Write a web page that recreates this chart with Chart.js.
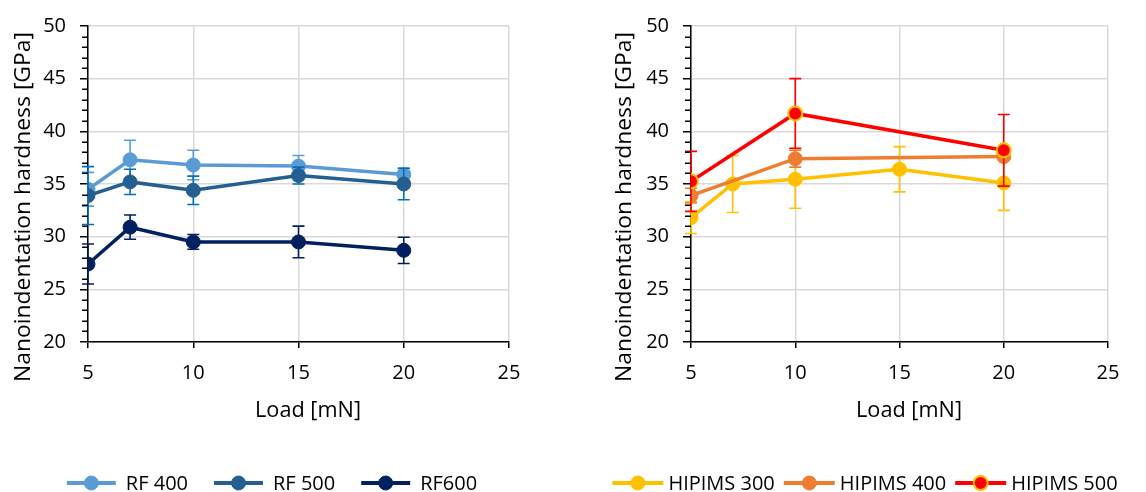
<!DOCTYPE html>
<html>
<head>
<meta charset="utf-8">
<script src="https://cdn.jsdelivr.net/npm/chart.js@4/dist/chart.umd.min.js"></script>
<style>
  body { margin: 0; background: #fff; }
  .panel { position: absolute; top: 0; width: 573px; height: 492px; }
  #leftPanel { left: 0; }
  #rightPanel { left: 573px; }
</style>
</head>
<body>
<div class="panel" id="leftPanel"><canvas id="rfChart" width="573" height="492"></canvas></div>
<div class="panel" id="rightPanel"><canvas id="hipimsChart" width="573" height="492"></canvas></div>
<script>
// Load values [mN]
const loadsFull = [5, 7, 10, 15, 20];
const loadsShort = [5, 10, 20];

// RF sputtered films: hardness [GPa] and standard deviation
const rf400 = [34.5, 37.3, 36.8, 36.7, 35.9];
const rf400Err = [1.6, 1.85, 1.4, 1.0, 0.6];
const rf500 = [33.9, 35.2, 34.4, 35.8, 35.0];
const rf500Err = [2.75, 1.2, 1.35, 0.8, 1.5];
const rf600 = [27.4, 30.9, 29.5, 29.5, 28.7];
const rf600Err = [1.9, 1.15, 0.7, 1.5, 1.25];

// HIPIMS films
const hipims300 = [31.8, 35.0, 35.45, 36.4, 35.1];
const hipims300Err = [1.5, 2.7, 2.75, 2.15, 2.6];
const hipims400 = [33.9, 37.4, 37.6];
const hipims400Err = [0.7, 0.8, 0.3];
const hipims500 = [35.25, 41.7, 38.2];
const hipims500Err = [2.85, 3.3, 3.4];

const yTicks = [20, 25, 30, 35, 40, 45, 50];
const xTicks = [5, 10, 15, 20, 25];

const yTitle = "Nanoindentation hardness [GPa]";
const xTitle = "Load [mN]";

const FONT = "'Open Sans'";
const FONT_SIZE = 20;

function points(xs, ys) {
  return xs.map((x, i) => ({ x: x, y: ys[i] }));
}

function series(label, xs, ys, errs, color, opts = {}) {
  return {
    label: label,
    data: points(xs, ys),
    errors: errs,
    errorColor: opts.errorColor || color,
    borderColor: color,
    backgroundColor: color,
    borderWidth: 3.5,
    pointRadius: 7,
    pointHoverRadius: 7,
    pointBackgroundColor: opts.pointFill || color,
    pointBorderColor: opts.pointBorder || color,
    pointBorderWidth: opts.pointBorderWidth || 1,
    showLine: true,
    tension: 0,
  };
}

// error bars drawn just before each series so later series sit on top
const errorBars = {
  id: "errorBars",
  beforeDatasetDraw(chart, args) {
    const ds = chart.data.datasets[args.index];
    if (!ds.errors) return;
    const y = chart.scales.y;
    const ctx = chart.ctx;
    ctx.save();
    ctx.strokeStyle = ds.errorColor;
    ctx.lineWidth = 1.6;
    args.meta.data.forEach((pt, i) => {
      const v = ds.data[i].y, e = ds.errors[i];
      const top = y.getPixelForValue(v + e);
      const bot = y.getPixelForValue(v - e);
      ctx.beginPath();
      ctx.moveTo(pt.x, top); ctx.lineTo(pt.x, bot);
      ctx.moveTo(pt.x - 6, top); ctx.lineTo(pt.x + 6, top);
      ctx.moveTo(pt.x - 6, bot); ctx.lineTo(pt.x + 6, bot);
      ctx.stroke();
    });
    ctx.restore();
  }
};

// text drawn at a fixed length (axis titles are set a little wider)
function stretchedText(ctx, text, x, y, length, rotated) {
  ctx.save();
  ctx.translate(x, y);
  if (rotated) ctx.rotate(-Math.PI / 2);
  const w = ctx.measureText(text).width;
  ctx.scale(length / w, 1);
  ctx.textAlign = "center";
  ctx.textBaseline = "alphabetic";
  ctx.fillText(text, 0, 0);
  ctx.restore();
}

// minor ticks, axis titles and the line+marker legend
const decorations = {
  id: "decorations",
  afterDraw(chart, args, opts) {
    const ctx = chart.ctx;
    const y = chart.scales.y;
    const area = chart.chartArea;
    ctx.save();
    ctx.strokeStyle = "#000";
    ctx.lineWidth = 1.5;
    ctx.beginPath();
    for (let v = y.min + 1; v < y.max; v++) {
      if (v % 5 === 0) continue;
      const py = Math.round(y.getPixelForValue(v)) + 0.25;
      ctx.moveTo(area.left - 6, py);
      ctx.lineTo(area.left, py);
    }
    ctx.stroke();

    ctx.fillStyle = "#000";
    ctx.font = "21px " + FONT;
    stretchedText(ctx, yTitle, opts.yTitleX, opts.yTitleY, 350, true);
    stretchedText(ctx, xTitle, opts.xTitleX, opts.xTitleY, 106, false);
    ctx.restore();

    // legend
    const lg = opts.legend;
    ctx.save();
    ctx.font = FONT_SIZE + "px " + FONT;
    ctx.textBaseline = "alphabetic";
    const items = chart.data.datasets.map(ds => ({ ds: ds, w: lg.line + lg.gap + ctx.measureText(ds.label).width }));
    const total = items.reduce((s, it) => s + it.w, 0) + lg.spacing * (items.length - 1);
    let x = lg.cx - total / 2;
    const ly = lg.cy;
    items.forEach(it => {
      const ds = it.ds;
      ctx.strokeStyle = ds.borderColor;
      ctx.lineWidth = 4;
      ctx.beginPath();
      ctx.moveTo(x, ly); ctx.lineTo(x + lg.line, ly);
      ctx.stroke();
      ctx.beginPath();
      ctx.arc(x + lg.line / 2, ly, 7, 0, Math.PI * 2);
      ctx.fillStyle = ds.pointBackgroundColor;
      ctx.fill();
      ctx.lineWidth = ds.pointBorderWidth;
      ctx.strokeStyle = ds.pointBorderColor;
      ctx.stroke();
      ctx.fillStyle = "#000";
      ctx.textAlign = "left";
      ctx.fillText(ds.label, x + lg.line + lg.gap, ly + 7);
      x += it.w + lg.spacing;
    });
    ctx.restore();
  }
};

function makeChart(canvasId, datasets, yWidth, rightPad, deco) {
  datasets.forEach((ds, i) => { ds.order = datasets.length - i; });
  return new Chart(document.getElementById(canvasId), {
    type: "scatter",
    data: { datasets: datasets },
    plugins: [errorBars, decorations],
    options: {
      responsive: false,
      animation: false,
      layout: { padding: { left: 0, top: 22, right: rightPad, bottom: 0 } },
      plugins: {
        legend: { display: false },
        tooltip: { enabled: false },
        decorations: deco,
      },
      scales: {
        x: {
          type: "linear",
          min: 5, max: 25,
          afterBuildTicks: s => { s.ticks = xTicks.map(v => ({ value: v })); },
          ticks: { color: "#000", font: { family: FONT, size: FONT_SIZE }, padding: 13, maxRotation: 0 },
          grid: { color: "#D9D9D9", lineWidth: 1.5, tickColor: "#000", tickLength: 6 },
          border: { color: "#000", width: 1.5 },
          afterFit: s => { s.height = 150; },
        },
        y: {
          min: 20, max: 50,
          afterBuildTicks: s => { s.ticks = yTicks.map(v => ({ value: v })); },
          ticks: { color: "#000", font: { family: FONT, size: FONT_SIZE }, padding: 14 },
          grid: { color: "#D9D9D9", lineWidth: 1.5, tickColor: "#000", tickLength: 8 },
          border: { color: "#000", width: 1.5 },
          afterFit: s => { s.width = yWidth; },
        },
      },
    },
  });
}

makeChart("rfChart", [
  series("RF 400", loadsFull, rf400, rf400Err, "#5B9BD5"),
  series("RF 500", loadsFull, rf500, rf500Err, "#255E91", { errorColor: "#0070C0" }),
  series("RF600", loadsFull, rf600, rf600Err, "#002060"),
], 88, 64, {
  yTitleX: 30, yTitleY: 207, xTitleX: 308, xTitleY: 416.5,
  legend: { cx: 272, cy: 483, line: 49, gap: 10, spacing: 26 },
});

makeChart("hipimsChart", [
  series("HIPIMS 300", loadsFull, hipims300, hipims300Err, "#FFC000"),
  series("HIPIMS 400", loadsShort, hipims400, hipims400Err, "#ED7D31"),
  series("HIPIMS 500", loadsShort, hipims500, hipims500Err, "#FF0000", { pointBorder: "#FFC000", pointBorderWidth: 2 }),
], 118, 38, {
  yTitleX: 58, yTitleY: 207, xTitleX: 336, xTitleY: 416.5,
  legend: { cx: 292, cy: 483, line: 51, gap: 5, spacing: 9 },
});
</script>
</body>
</html>
